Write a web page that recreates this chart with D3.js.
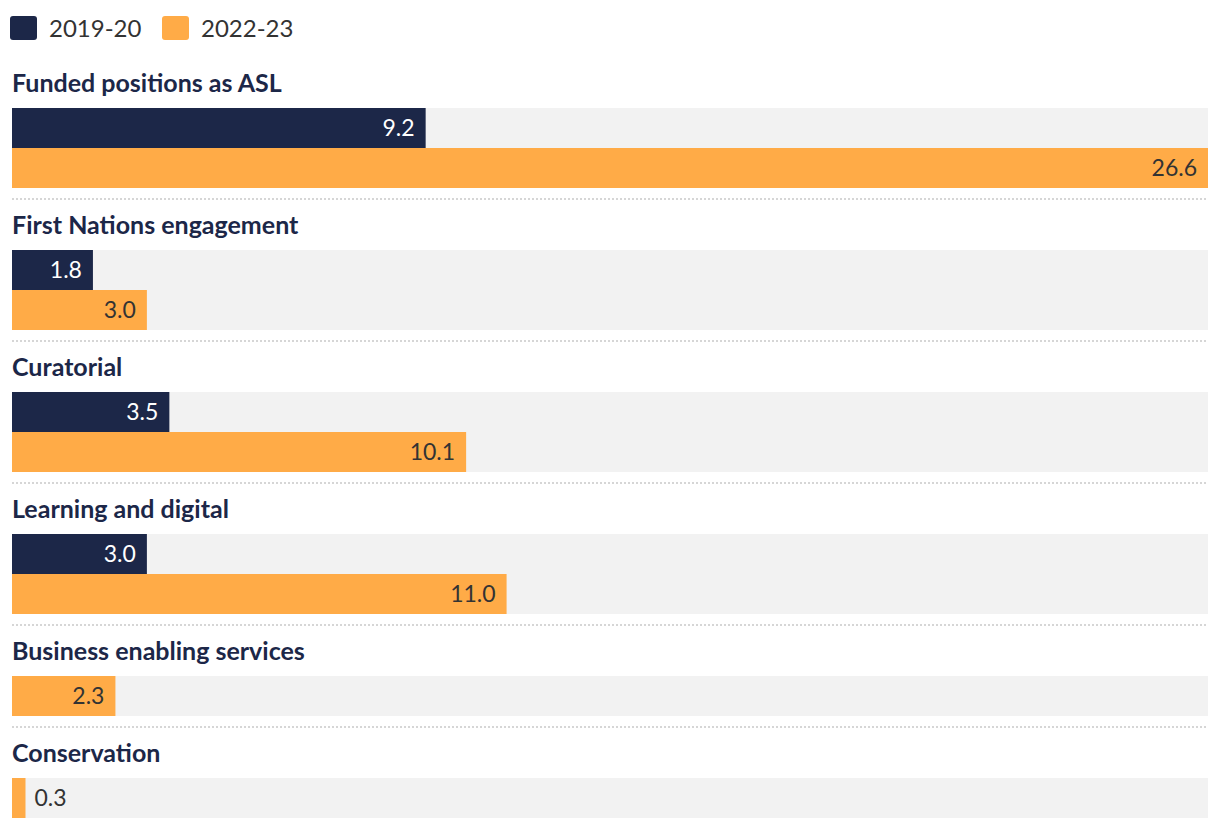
<!DOCTYPE html>
<html>
<head>
<meta charset="utf-8">
<script src="https://cdn.jsdelivr.net/npm/d3@7"></script>
<style>
  html, body { margin: 0; padding: 0; background: #ffffff; }
  svg { display: block; }
</style>
</head>
<body>
<svg id="chart" width="1220" height="828"></svg>
<script>
const categories = [
  "Funded positions as ASL",
  "First Nations engagement",
  "Curatorial",
  "Learning and digital",
  "Business enabling services",
  "Conservation"
];
const seriesNames = ["2019-20", "2022-23"];
const values2019 = [9.2, 1.8, 3.5, 3.0, null, null];
const values2022 = [26.6, 3.0, 10.1, 11.0, 2.3, 0.3];

const colors = { "2019-20": "#1c2748", "2022-23": "#ffab47" };
const labelColors = { "2019-20": "#ffffff", "2022-23": "#333333" };
const FONT = "Lato, 'Noto Sans', sans-serif";

const svg = d3.select("#chart");
const left = 12, right = 1208;
const x = d3.scaleLinear().domain([0, d3.max(values2022.concat(values2019))]).range([left, right]);
const barH = 40;

// Legend
const legend = svg.append("g");
const legendX = [10, 162];
seriesNames.forEach((s, i) => {
  const g = legend.append("g").attr("transform", `translate(${legendX[i]},16)`);
  g.append("rect").attr("width", 27).attr("height", 24).attr("rx", 3).attr("fill", colors[s]);
  g.append("text").attr("x", 39).attr("y", 21)
    .attr("font-family", FONT).attr("font-size", 24).attr("fill", "#333")
    .text(s);
});

// Groups
let cursor = 57;
categories.forEach((cat, i) => {
  const rows = [];
  if (values2019[i] != null) rows.push({ series: "2019-20", value: values2019[i] });
  if (values2022[i] != null) rows.push({ series: "2022-23", value: values2022[i] });
  const g = svg.append("g");
  g.append("text").attr("x", left).attr("y", cursor + 35)
    .attr("font-family", FONT).attr("font-weight", 700).attr("font-size", 25)
    .attr("fill", "#1c2748").text(cat);
  const top = cursor + 51;
  const y = d3.scaleBand().domain(rows.map(r => r.series)).range([top, top + rows.length * barH]);
  g.selectAll("rect.bg").data(rows).join("rect").attr("class", "bg")
    .attr("x", left).attr("y", d => y(d.series)).attr("width", right - left).attr("height", y.bandwidth())
    .attr("fill", "#f2f2f2");
  g.selectAll("rect.bar").data(rows).join("rect").attr("class", "bar")
    .attr("x", x(0)).attr("y", d => y(d.series)).attr("width", d => x(d.value) - x(0)).attr("height", y.bandwidth())
    .attr("fill", d => colors[d.series]);
  g.selectAll("text.val").data(rows).join("text").attr("class", "val")
    .attr("font-family", FONT).attr("font-size", 23)
    .attr("y", d => y(d.series) + 28)
    .each(function(d) {
      const t = d3.select(this).text(d.value.toFixed(1));
      const w = this.getComputedTextLength();
      const barW = x(d.value) - x(0);
      if (w + 20 < barW) {
        t.attr("x", x(d.value) - 11).attr("text-anchor", "end").attr("fill", labelColors[d.series]);
      } else {
        t.attr("x", x(d.value) + 9).attr("text-anchor", "start").attr("fill", "#333333");
      }
    });
  const sep = top + rows.length * barH + 11;
  g.append("line").attr("x1", left).attr("x2", right).attr("y1", sep).attr("y2", sep)
    .attr("stroke", "#d6d6d6").attr("stroke-width", 2).attr("stroke-dasharray", "2,2");
  cursor = sep;
});
</script>
</body>
</html>
